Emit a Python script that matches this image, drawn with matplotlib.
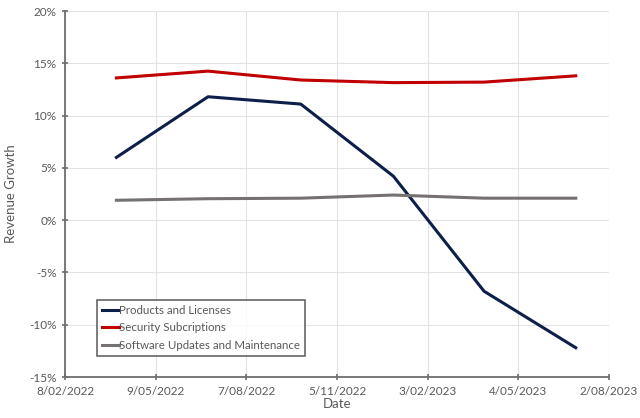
import matplotlib
matplotlib.use("Agg")
import matplotlib.pyplot as plt
import matplotlib.ticker as mticker
import datetime as dt

dates = ["2022-03-31", "2022-06-30", "2022-09-30", "2022-12-31", "2023-03-31", "2023-06-30"]
products = [6.0, 11.8, 11.1, 4.2, -6.8, -12.2]
security = [13.6, 14.25, 13.4, 13.15, 13.2, 13.8]
software = [1.9, 2.05, 2.1, 2.4, 2.1, 2.1]
tick_dates = ["2022-02-08", "2022-05-09", "2022-08-07", "2022-11-05", "2023-02-03", "2023-05-04", "2023-08-02"]
tick_labels = ["8/02/2022", "9/05/2022", "7/08/2022", "5/11/2022", "3/02/2023", "4/05/2023", "2/08/2023"]

plt.rcParams['font.family'] = ['Lato', 'DejaVu Sans']
txt = '#595959'

x = [dt.datetime.strptime(d, "%Y-%m-%d") for d in dates]
xt = [dt.datetime.strptime(d, "%Y-%m-%d") for d in tick_dates]

fig = plt.figure(figsize=(6.4, 4.18), dpi=100)
ax = fig.add_axes([65/640, 1-377/418, (609-65)/640, (377-11)/418])

ax.plot(x, products, color='#0c1f4a', lw=2.2, label='Products and Licenses')
ax.plot(x, security, color='#c00000', lw=2.2, label='Security Subcriptions')
ax.plot(x, software, color='#767171', lw=2.2, label='Software Updates and Maintenance')

ax.set_xlim(xt[0], xt[-1])
ax.set_ylim(-15, 20)
ax.set_xticks(xt)
ax.set_xticklabels(tick_labels)
ax.set_yticks(range(-15, 21, 5))
ax.yaxis.set_major_formatter(mticker.FuncFormatter(lambda v, p: f"{int(v)}%"))
ax.grid(True, color='#e3e3e3', lw=0.8)
ax.set_axisbelow(True)
for s in ['top', 'right']:
    ax.spines[s].set_visible(False)
for s in ['left', 'bottom']:
    ax.spines[s].set_color('#6e6e6e')
    ax.spines[s].set_linewidth(1.3)
ax.tick_params(axis='both', colors='#6e6e6e', labelcolor=txt, labelsize=8.5, direction='inout', length=5, width=1.2)
ax.tick_params(axis='x', pad=4)
ax.set_xlabel('Date', color=txt, fontsize=9.5, labelpad=1)
ax.set_ylabel('Revenue Growth', color=txt, fontsize=9.5, labelpad=9)

leg = ax.legend(loc='lower left', bbox_to_anchor=(32/544, 21/366), fontsize=8.3, frameon=True, fancybox=False,
                handlelength=1.5, handletextpad=0.05, borderpad=0.4, labelspacing=0.6, borderaxespad=0)
leg.get_frame().set_edgecolor('#404040')
leg.get_frame().set_linewidth(1.2)
for t in leg.get_texts():
    t.set_color(txt)

fig.savefig('out.png', dpi=100)
